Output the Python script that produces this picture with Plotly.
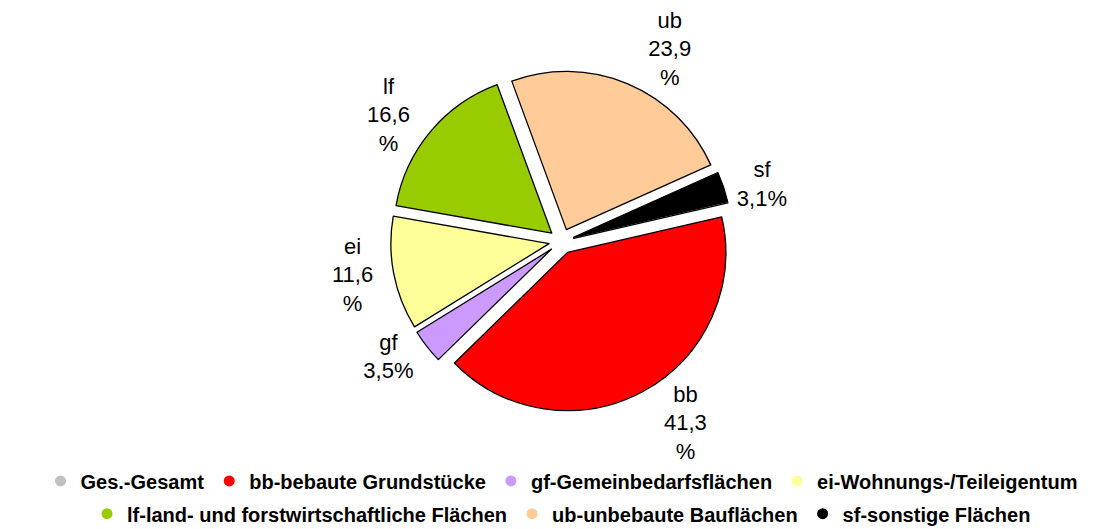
import plotly.graph_objects as go

codes = ["Ges.", "bb", "gf", "ei", "lf", "ub", "sf"]
legend_names = ["Ges.-Gesamt", "bb-bebaute Grundstücke", "gf-Gemeinbedarfsflächen",
                "ei-Wohnungs-/Teileigentum", "lf-land- und forstwirtschaftliche Flächen",
                "ub-unbebaute Bauflächen", "sf-sonstige Flächen"]
legend_row = [1, 1, 1, 1, 2, 2, 2]
values = [0.0, 41.3, 3.5, 11.6, 16.6, 23.9, 3.1]
slice_text = ["", "bb<br>41,3<br>%", "gf<br>3,5%", "ei<br>11,6<br>%",
              "lf<br>16,6<br>%", "ub<br>23,9<br>%", "sf<br>3,1%"]
colors = ["#C0C0C0", "#FF0000", "#CC99FF", "#FFFF99", "#99CC00", "#FFCC99", "#000000"]

FONT = "Liberation Sans, Arial, sans-serif"

fig = go.Figure()
fig.add_trace(go.Pie(
    labels=legend_names, values=values, text=slice_text,
    textinfo="text", textposition="outside",
    marker=dict(colors=colors, line=dict(color="#000000", width=1.3)),
    sort=False, direction="clockwise", rotation=77,
    pull=[0.08] * len(values),
    showlegend=False,
    textfont=dict(family=FONT, size=22, color="#000000"),
    domain=dict(x=[0.29, 0.71], y=[0.236, 0.882]),
    hoverinfo="label+percent",
))
for name, col, row in zip(legend_names, colors, legend_row):
    fig.add_trace(go.Scatter(x=[None], y=[None], mode="markers", name=name,
                             legend="legend" if row == 1 else "legend2",
                             marker=dict(symbol="circle", size=11, color=col)))

legend_font = dict(family=FONT, size=20, color="#000000", weight="bold")
fig.update_layout(
    width=1107, height=529,
    margin=dict(l=0, r=0, t=0, b=0, autoexpand=False),
    paper_bgcolor="white", plot_bgcolor="white",
    xaxis=dict(visible=False), yaxis=dict(visible=False),
    legend=dict(orientation="h", x=0.5, xanchor="center", y=0.106, yanchor="middle",
                yref="container", font=legend_font, itemwidth=30),
    legend2=dict(orientation="h", x=0.5, xanchor="center", y=0.044, yanchor="middle",
                 yref="container", font=legend_font, itemwidth=30),
)
fig.write_html("out.html")
